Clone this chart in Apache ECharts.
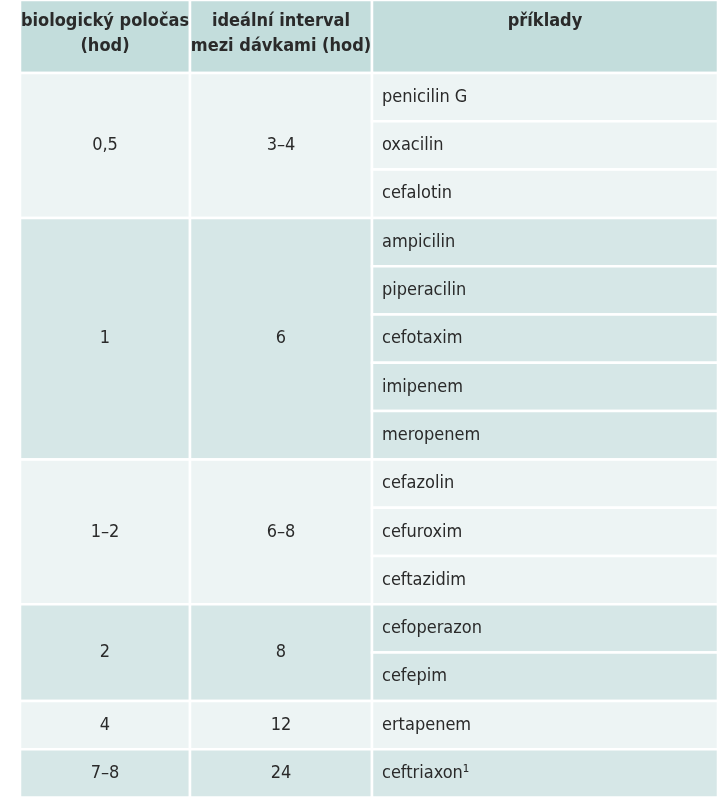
<!DOCTYPE html>
<html>
<head>
<meta charset="utf-8">
<script src="https://cdn.jsdelivr.net/npm/echarts@6/dist/echarts.min.js"></script>
<style>html,body{margin:0;background:#fff}#main{width:718px;height:800px}</style>
</head>
<body>
<div id="main"></div>
<script>
var headers = ['biologický poločas\n(hod)', 'ideální interval\nmezi dávkami (hod)', 'příklady'];
var halfLives = ['0,5', '1', '1–2', '2', '4', '7–8'];
var intervals = ['3–4', '6', '6–8', '8', '12', '24'];
var examples = [
    ['penicilin G', 'oxacilin', 'cefalotin'],
    ['ampicilin', 'piperacilin', 'cefotaxim', 'imipenem', 'meropenem'],
    ['cefazolin', 'cefuroxim', 'ceftazidim'],
    ['cefoperazon', 'cefepim'],
    ['ertapenem'],
    ['ceftriaxon¹']
];

// layout in pixel units of the grid
var colEdges = [0, 170, 352, 698];
var headH = 73, rowH = 48.3;
var colors = ['#edf4f4', '#d6e7e7'];
var headColor = '#c3dddc';

var cells = [];
headers.forEach(function (h, c) {
    cells.push([colEdges[c], 0, colEdges[c + 1], headH, h, headColor, 'head']);
});
var y = headH;
examples.forEach(function (list, g) {
    var col = colors[g % 2];
    var gh = list.length * rowH;
    cells.push([colEdges[0], y, colEdges[1], y + gh, halfLives[g], col, 'center']);
    cells.push([colEdges[1], y, colEdges[2], y + gh, intervals[g], col, 'center']);
    list.forEach(function (d, i) {
        cells.push([colEdges[2], y + i * rowH, colEdges[3], y + (i + 1) * rowH, d, col, 'left']);
    });
    y += gh;
});

var chart = echarts.init(document.getElementById('main'));
chart.setOption({
    animation: false,
    grid: { left: 20, right: 0, top: 0, bottom: 3 },
    xAxis: { type: 'value', min: 0, max: 698, show: false },
    yAxis: { type: 'value', min: 0, max: 797, inverse: true, show: false },
    series: [{
        type: 'custom',
        data: cells,
        renderItem: function (params, api) {
            var p0 = api.coord([api.value(0), api.value(1)]);
            var p1 = api.coord([api.value(2), api.value(3)]);
            var d = cells[params.dataIndex];
            var left = d[6] === 'left';
            var head = d[6] === 'head';
            return {
                type: 'group',
                children: [{
                    type: 'rect',
                    shape: { x: p0[0], y: p0[1], width: p1[0] - p0[0], height: p1[1] - p0[1] },
                    style: { fill: d[5], stroke: '#fff', lineWidth: 2.5 }
                }, {
                    type: 'text',
                    x: left ? p0[0] + 10 : (p0[0] + p1[0]) / 2,
                    y: head ? p0[1] + 9 : (p0[1] + p1[1]) / 2,
                    style: {
                        text: d[4], fill: '#2a2a2a',
                        font: (head ? 'bold ' : '') + '18px "DejaVu Sans Condensed", "Liberation Sans Narrow", sans-serif',
                        align: left ? 'left' : 'center',
                        verticalAlign: head ? 'top' : 'middle',
                        lineHeight: 25
                    }
                }]
            };
        }
    }]
});
</script>
</body>
</html>
